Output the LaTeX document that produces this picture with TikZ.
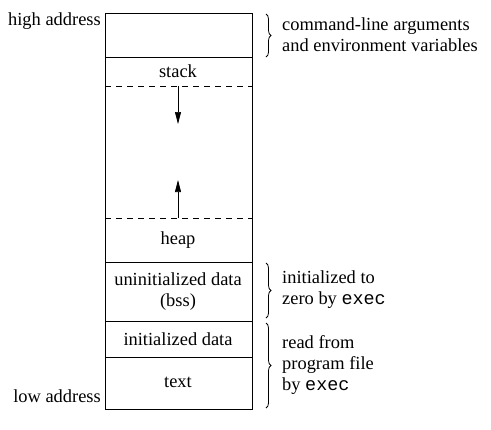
\documentclass[tikz,border=0pt]{standalone}
\usepackage{fontspec}
\setmainfont{Liberation Serif}
\setmonofont{Liberation Mono}
\usetikzlibrary{arrows.meta,decorations.pathreplacing}
\begin{document}
\begin{tikzpicture}[x=1bp,y=-1bp]
		\begin{scope}[font=\fontsize{18.5}{21}\selectfont]
		
		\tikzstyle{segline}=[draw=black, line width=0.9pt]
		\tikzstyle{gapline}=[draw=black, line width=0.9pt, dash pattern=on 6bp off 5bp]
		\tikzstyle{growarrow}=[-{Triangle[length=12bp,width=6bp]}, line width=0.7pt]
		\tikzstyle{mybrace}=[decorate, decoration={brace, amplitude=5bp}, line width=0.8pt]
		\tikzstyle{note}=[anchor=west, inner sep=0pt, align=left]
		
		\useasboundingbox (0,0) rectangle (491,429);
		
		\coordinate (ptl) at (105, 13);
		\coordinate (pbr) at (252, 409);
		\coordinate (pargs) at (105, 57);
		\coordinate (pstack) at (105, 86);
		\coordinate (pheap) at (105, 218);
		\coordinate (pbss) at (105, 262);
		\coordinate (pdata) at (105, 321);
		\coordinate (ptext) at (105, 357);
		
		% memory segments
		\draw[segline] (ptl) rectangle (pbr);
		\draw[segline] (pargs) -- ++(147, 0);
		\draw[gapline] (pstack) -- ++(147, 0);
		\draw[gapline] (pheap) -- ++(147, 0);
		\draw[segline] (pbss) -- ++(147, 0);
		\draw[segline] (pdata) -- ++(147, 0);
		\draw[segline] (ptext) -- ++(147, 0);
		
		\node (stack) at (178, 71) {stack};
		\node (heap) at (178, 240) {heap};
		\node[align=center] (bss) at (178, 292) {uninitialized data\\(bss)};
		\node (data) at (178, 339) {initialized data};
		\node (text) at (178, 382) {text};
		
		\coordinate (sdown0) at (178, 86);
		\coordinate (sdown1) at (178, 124);
		\coordinate (hup0) at (178, 218);
		\coordinate (hup1) at (178, 180);
		\draw[growarrow] (sdown0) -- (sdown1);
		\draw[growarrow] (hup0) -- (hup1);
		
		\node[anchor=east, inner sep=0pt] (high) at (101, 21) {high address};
		\node[anchor=east, inner sep=0pt] (low) at (101, 396) {low address};
		
		% braces and notes
		\coordinate (b1a) at (266, 14);
		\coordinate (b1b) at (266, 57);
		\coordinate (b2a) at (266, 263);
		\coordinate (b2b) at (266, 318);
		\coordinate (b3a) at (266, 323);
		\coordinate (b3b) at (266, 408);
		\draw[mybrace] (b1a) -- (b1b);
		\draw[mybrace] (b2a) -- (b2b);
		\draw[mybrace] (b3a) -- (b3b);
		
		\node[note] (args) at (282, 35) {command-line arguments\\and environment variables};
		\node[note] (zero) at (282, 290) {initialized to\\zero by \texttt{exec}};
		\node[note] (read) at (282, 365) {read from\\program file\\by \texttt{exec}};
		
		\end{scope}
		\end{tikzpicture}
\end{document}
